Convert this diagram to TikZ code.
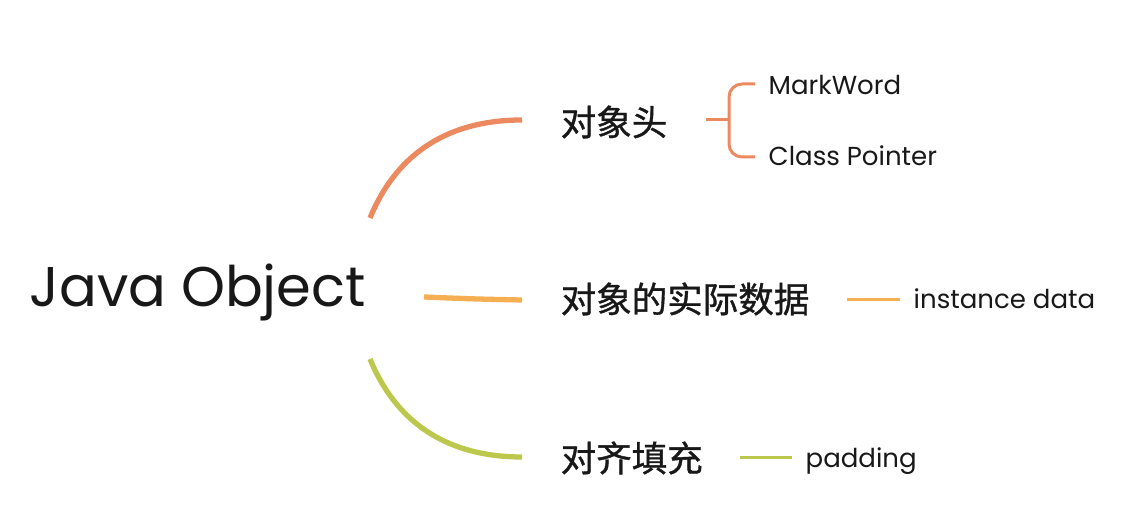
\documentclass[tikz,border=0pt]{standalone}
\usepackage{fontspec}
\setmainfont{Poppins}
\newfontfamily\cjk{Noto Sans CJK SC}[FakeBold=1]
\usetikzlibrary{calc}
\definecolor{ink}{RGB}{24,24,24}
\definecolor{headc}{RGB}{236,137,94}
\definecolor{datac}{RGB}{245,174,82}
\definecolor{padc}{RGB}{188,200,76}
\tikzset{
	branch/.style={line width=1.5pt},
	leaf/.style={line width=0.85pt},
	rootlabel/.style={inner sep=0pt, anchor=base west, text=ink, font=\fontsize{15.9pt}{19pt}\selectfont},
	topic/.style={inner sep=0pt, anchor=west, text=ink, font=\cjk\fontsize{10.1pt}{12pt}\selectfont},
	detail/.style={inner sep=0pt, anchor=base west, text=ink, font=\fontsize{7.4pt}{9pt}\selectfont},
}

\begin{document}
\begin{tikzpicture}[x=0.01cm, y=0.01cm]
			%%%%% START %%%%%
			\useasboundingbox (0, 0) rectangle (1124, 528);
			
			\node[rootlabel] (root) at (29, 221) {Java Object};
			
			\node[topic] (head) at (560, 406) {对象头};
			\node[topic] (data) at (560, 229) {对象的实际数据};
			\node[topic] (pad) at (560, 70) {对齐填充};
			
			\node[detail] (mark) at (768, 433) {MarkWord};
			\node[detail] (cls) at (768, 362) {Class Pointer};
			\node[detail] (inst) at (913, 219) {instance data};
			\node[detail] (padding) at (805, 60) {padding};
			
			% hub points beside the root
			\coordinate (hubN) at (370, 310);
			\coordinate (hubE) at (424, 231);
			\coordinate (hubS) at (370, 169);
			
			\draw[branch, headc] (hubN) .. controls +(28, 68) and +(-70, 0) .. ($(head.west)+(-38, 2)$);
			\draw[branch, datac] (hubE) .. controls +(50, -2) .. ($(data.west)+(-38, -1)$);
			\draw[branch, padc] (hubS) .. controls +(28, -68) and +(-70, 0) .. ($(pad.west)+(-38, 1)$);
			
			% bracket for the header
			\draw[leaf, headc] ($(head.east)+(38, 2)$) -- (729, 408);
			\draw[leaf, headc, rounded corners=1.3mm] (755, 444) -| (729, 371) -- (755, 371);
			
			\draw[leaf, datac] ($(inst.base west)+(-66, 9)$) -- ($(inst.base west)+(-13, 9)$);
			\draw[leaf, padc] ($(padding.base west)+(-65, 10)$) -- ($(padding.base west)+(-13, 10)$);
			
			%%%%% END %%%%%
\end{tikzpicture}
\end{document}
